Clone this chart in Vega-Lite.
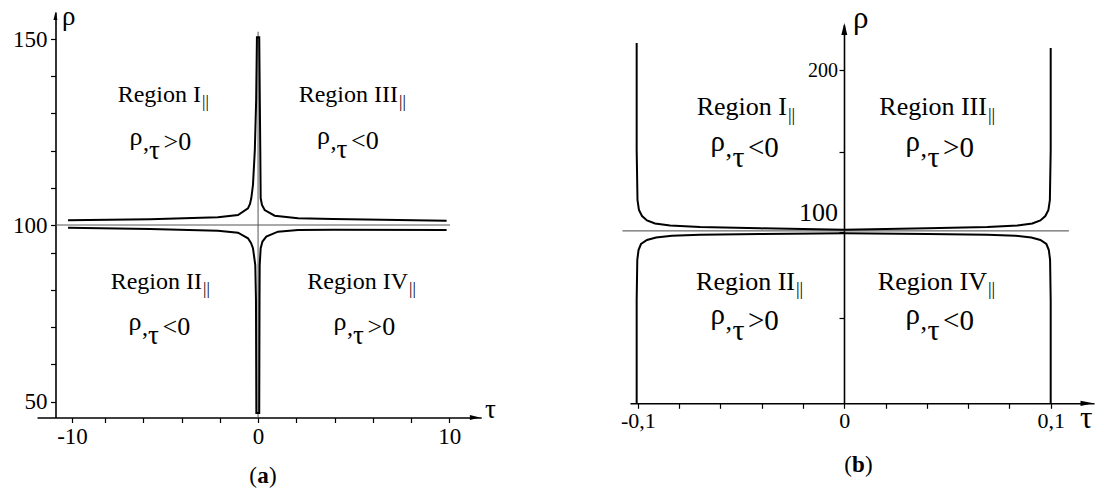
{
  "$schema": "https://vega.github.io/schema/vega-lite/v6.json",
  "width": 1101,
  "height": 491,
  "padding": 0,
  "autosize": {"type": "none"},
  "background": "white",
  "config": {
    "view": {"stroke": null},
    "font": "Liberation Serif",
    "text": {"font": "Liberation Serif", "color": "black"},
    "axis": {"grid": false, "domainColor": "black", "tickColor": "black", "labelColor": "black", "labelFont": "Liberation Serif", "labelFlush": false, "labelOverlap": false, "labelBound": false}
  },
  "datasets": {
    "curvesA": [
      {"b": "up", "i": 1, "tau": -10.24, "rho": 101.26},
      {"b": "up", "i": 2, "tau": -5.65, "rho": 101.53},
      {"b": "up", "i": 3, "tau": -2.1, "rho": 102.07},
      {"b": "up", "i": 4, "tau": -1.05, "rho": 102.69},
      {"b": "up", "i": 5, "tau": -0.528, "rho": 104.49},
      {"b": "up", "i": 6, "tau": -0.424, "rho": 105.65},
      {"b": "up", "i": 7, "tau": -0.356, "rho": 107.18},
      {"b": "up", "i": 8, "tau": -0.267, "rho": 110.75},
      {"b": "up", "i": 9, "tau": -0.17, "rho": 120.16},
      {"b": "up", "i": 10, "tau": -0.1, "rho": 133.6},
      {"b": "up", "i": 11, "tau": -0.06, "rho": 150.5},
      {"b": "up", "i": 12, "tau": 0.06, "rho": 150.5},
      {"b": "up", "i": 13, "tau": 0.09, "rho": 133.6},
      {"b": "up", "i": 14, "tau": 0.115, "rho": 120.16},
      {"b": "up", "i": 15, "tau": 0.136, "rho": 107.18},
      {"b": "up", "i": 16, "tau": 0.204, "rho": 105.38},
      {"b": "up", "i": 17, "tau": 0.345, "rho": 104.03},
      {"b": "up", "i": 18, "tau": 0.868, "rho": 102.5},
      {"b": "up", "i": 19, "tau": 2.09, "rho": 101.8},
      {"b": "up", "i": 20, "tau": 3.92, "rho": 101.61},
      {"b": "up", "i": 21, "tau": 9.86, "rho": 101.16},
      {"b": "lo", "i": 1, "tau": -10.24, "rho": 99.03},
      {"b": "lo", "i": 2, "tau": -5.65, "rho": 98.56},
      {"b": "lo", "i": 3, "tau": -2.1, "rho": 97.94},
      {"b": "lo", "i": 4, "tau": -1.05, "rho": 97.22},
      {"b": "lo", "i": 5, "tau": -0.528, "rho": 95.2},
      {"b": "lo", "i": 6, "tau": -0.371, "rho": 93.5},
      {"b": "lo", "i": 7, "tau": -0.267, "rho": 91.6},
      {"b": "lo", "i": 8, "tau": -0.146, "rho": 86.7},
      {"b": "lo", "i": 9, "tau": -0.11, "rho": 77.3},
      {"b": "lo", "i": 10, "tau": -0.09, "rho": 46.97},
      {"b": "lo", "i": 11, "tau": 0.06, "rho": 46.97},
      {"b": "lo", "i": 12, "tau": 0.075, "rho": 77.3},
      {"b": "lo", "i": 13, "tau": 0.084, "rho": 86.7},
      {"b": "lo", "i": 14, "tau": 0.136, "rho": 91.6},
      {"b": "lo", "i": 15, "tau": 0.23, "rho": 94.04},
      {"b": "lo", "i": 16, "tau": 0.429, "rho": 95.78},
      {"b": "lo", "i": 17, "tau": 1.04, "rho": 97.58},
      {"b": "lo", "i": 18, "tau": 2.09, "rho": 98.2},
      {"b": "lo", "i": 19, "tau": 3.92, "rho": 98.3},
      {"b": "lo", "i": 20, "tau": 9.86, "rho": 98.2}
    ],
    "thinA": [
      {"b": "h", "i": 1, "tau": -11.0, "rho": 100},
      {"b": "h", "i": 2, "tau": 10.04, "rho": 100},
      {"b": "v", "i": 1, "tau": 0, "rho": 151.96},
      {"b": "v", "i": 2, "tau": 0, "rho": 45.76}
    ],
    "regionA": [
      {"tau": -2.986, "rho": 133.06, "main": "Region I", "sub": "||"},
      {"tau": 7.317, "rho": 133.06, "main": "Region III", "sub": "||"},
      {"tau": -2.934, "rho": 80.26, "main": "Region II", "sub": "||"},
      {"tau": 7.84, "rho": 80.26, "main": "Region IV", "sub": "||"}
    ],
    "ineqA": [
      {"tau": -6.046, "rho": 120.16, "sign": ">0"},
      {"tau": 3.76, "rho": 120.5, "sign": "<0"},
      {"tau": -6.098, "rho": 67.9, "sign": "<0"},
      {"tau": 4.623, "rho": 67.9, "sign": ">0"}
    ],
    "titlesA": [
      {"tau": -10.6, "rho": 153.76, "t": "ρ"},
      {"tau": 11.87, "rho": 45.63, "t": "τ"}
    ],
    "arrowsA": [
      {"dir": "up", "tau": -11.0, "rho": 156.2},
      {"dir": "right", "tau": 11.34, "rho": 45.76}
    ],
    "captionA": [
      {"tau": 0.256, "rho": 28.18, "letter": "a"}
    ],
    "curvesB": [
      {"b": "up", "i": 1, "tau": -0.1006, "rho": 216.5},
      {"b": "up", "i": 2, "tau": -0.1006, "rho": 151.0},
      {"b": "up", "i": 3, "tau": -0.1002, "rho": 119.8},
      {"b": "up", "i": 4, "tau": -0.0995, "rho": 113.6},
      {"b": "up", "i": 5, "tau": -0.098, "rho": 109.8},
      {"b": "up", "i": 6, "tau": -0.0956, "rho": 107.0},
      {"b": "up", "i": 7, "tau": -0.0917, "rho": 105.1},
      {"b": "up", "i": 8, "tau": -0.0844, "rho": 103.9},
      {"b": "up", "i": 9, "tau": -0.0699, "rho": 102.9},
      {"b": "up", "i": 10, "tau": -0.0408, "rho": 102.1},
      {"b": "up", "i": 11, "tau": 0, "rho": 101.25},
      {"b": "up", "i": 12, "tau": 0.0403, "rho": 102.1},
      {"b": "up", "i": 13, "tau": 0.0693, "rho": 102.9},
      {"b": "up", "i": 14, "tau": 0.0839, "rho": 103.9},
      {"b": "up", "i": 15, "tau": 0.0911, "rho": 105.1},
      {"b": "up", "i": 16, "tau": 0.095, "rho": 107.0},
      {"b": "up", "i": 17, "tau": 0.0974, "rho": 109.8},
      {"b": "up", "i": 18, "tau": 0.0989, "rho": 113.6},
      {"b": "up", "i": 19, "tau": 0.0996, "rho": 119.8},
      {"b": "up", "i": 20, "tau": 0.1, "rho": 151.0},
      {"b": "up", "i": 21, "tau": 0.1, "rho": 213.5},
      {"b": "lo", "i": 1, "tau": -0.1006, "rho": 0},
      {"b": "lo", "i": 2, "tau": -0.1006, "rho": 60.6},
      {"b": "lo", "i": 3, "tau": -0.1003, "rho": 83.7},
      {"b": "lo", "i": 4, "tau": -0.0997, "rho": 89.4},
      {"b": "lo", "i": 5, "tau": -0.0985, "rho": 92.9},
      {"b": "lo", "i": 6, "tau": -0.0956, "rho": 95.2},
      {"b": "lo", "i": 7, "tau": -0.0912, "rho": 96.65},
      {"b": "lo", "i": 8, "tau": -0.0835, "rho": 97.7},
      {"b": "lo", "i": 9, "tau": -0.0699, "rho": 98.2},
      {"b": "lo", "i": 10, "tau": -0.0408, "rho": 98.67},
      {"b": "lo", "i": 11, "tau": 0, "rho": 99.08},
      {"b": "lo", "i": 12, "tau": 0.0403, "rho": 98.67},
      {"b": "lo", "i": 13, "tau": 0.0693, "rho": 98.2},
      {"b": "lo", "i": 14, "tau": 0.0829, "rho": 97.7},
      {"b": "lo", "i": 15, "tau": 0.0906, "rho": 96.65},
      {"b": "lo", "i": 16, "tau": 0.095, "rho": 95.2},
      {"b": "lo", "i": 17, "tau": 0.0979, "rho": 92.9},
      {"b": "lo", "i": 18, "tau": 0.0991, "rho": 89.4},
      {"b": "lo", "i": 19, "tau": 0.0997, "rho": 83.7},
      {"b": "lo", "i": 20, "tau": 0.1, "rho": 60.6},
      {"b": "lo", "i": 21, "tau": 0.1, "rho": 0}
    ],
    "thinB": [
      {"b": "h", "i": 1, "tau": -0.1075, "rho": 100.5},
      {"b": "h", "i": 2, "tau": 0.1088, "rho": 100.5}
    ],
    "regionB": [
      {"tau": -0.02776, "rho": 172.46, "main": "Region I", "sub": "||"},
      {"tau": 0.0691, "rho": 172.46, "main": "Region III", "sub": "||"},
      {"tau": -0.02389, "rho": 66.34, "main": "Region II", "sub": "||"},
      {"tau": 0.0691, "rho": 66.34, "main": "Region IV", "sub": "||"}
    ],
    "ineqB": [
      {"tau": -0.0578, "rho": 146.7, "sign": "<0"},
      {"tau": 0.0367, "rho": 146.7, "sign": ">0"},
      {"tau": -0.0578, "rho": 43.1, "sign": ">0"},
      {"tau": 0.0367, "rho": 43.1, "sign": "<0"}
    ],
    "titlesB": [
      {"tau": 0.0042, "rho": 225.4, "t": "ρ"},
      {"tau": 0.1142, "rho": -14.53, "t": "τ"}
    ],
    "arrowsB": [
      {"dir": "up", "tau": 0, "rho": 225.1},
      {"dir": "right", "tau": 0.1176, "rho": 0}
    ],
    "captionB": [
      {"tau": 0.00688, "rho": -40.4, "letter": "b"}
    ]
  },
  "layer": [
    {
      "encoding": {
        "x": {
          "field": "tau", "type": "quantitative",
          "scale": {"domain": [-12.115, -8, 10, 11.67], "range": [37, 105.1, 449.3, 481.2], "nice": false, "zero": false},
          "axis": {
            "orient": "bottom", "offset": -73.5, "title": null,
            "values": [-10, -8, -6, -4, -2, 0, 2, 4, 6, 8, 10],
            "labelExpr": "datum.value == -10 ? '-10' : (datum.value == 0 ? '0' : (datum.value == 10 ? '10' : ''))",
            "tickSize": 5, "tickWidth": 1.2, "domainWidth": 1.6,
            "labelFontSize": 23, "labelPadding": 2.5
          }
        },
        "y": {
          "field": "rho", "type": "quantitative",
          "scale": {"domain": [45.76, 50, 90, 100, 150, 157.26], "range": [417.5, 401.7, 252.7, 225, 39, 12], "nice": false, "zero": false},
          "axis": {
            "orient": "left", "offset": -55.5, "title": null,
            "values": [50, 60, 70, 80, 90, 100, 110, 120, 130, 140, 150],
            "labelExpr": "datum.value % 50 == 0 ? '' + datum.value : ''",
            "tickSize": 5, "tickWidth": 1.2, "domainWidth": 1.6,
            "labelFontSize": 23, "labelPadding": 3.5
          }
        }
      },
      "layer": [
        {
          "data": {"name": "thinA"},
          "mark": {"type": "line", "stroke": "#555555", "strokeWidth": 1},
          "encoding": {"detail": {"field": "b"}, "order": {"field": "i", "type": "quantitative"}}
        },
        {
          "data": {"name": "curvesA"},
          "mark": {"type": "line", "stroke": "black", "strokeWidth": 2},
          "encoding": {"detail": {"field": "b"}, "order": {"field": "i", "type": "quantitative"}}
        },
        {
          "data": {"name": "regionA"},
          "mark": {"type": "text", "align": "right", "baseline": "alphabetic", "fontSize": 24},
          "encoding": {"text": {"field": "main"}}
        },
        {
          "data": {"name": "regionA"},
          "mark": {"type": "text", "align": "left", "baseline": "alphabetic", "fontSize": 17, "dx": 1, "dy": 5},
          "encoding": {"text": {"field": "sub"}}
        },
        {
          "data": {"name": "ineqA"},
          "mark": {"type": "text", "align": "right", "baseline": "alphabetic", "fontSize": 26, "dy": -5},
          "encoding": {"text": {"value": "ρ"}}
        },
        {
          "data": {"name": "ineqA"},
          "mark": {"type": "text", "align": "left", "baseline": "alphabetic", "fontSize": 24, "dx": 0.5},
          "encoding": {"text": {"value": ","}}
        },
        {
          "data": {"name": "ineqA"},
          "mark": {"type": "text", "align": "left", "baseline": "alphabetic", "fontSize": 27, "dx": 6.5, "dy": 9},
          "encoding": {"text": {"value": "τ"}}
        },
        {
          "data": {"name": "ineqA"},
          "mark": {"type": "text", "align": "left", "baseline": "alphabetic", "fontSize": 26, "dx": 21},
          "encoding": {"text": {"field": "sign"}}
        },
        {
          "data": {"name": "titlesA"},
          "mark": {"type": "text", "align": "left", "baseline": "alphabetic", "fontSize": 27},
          "encoding": {"text": {"field": "t"}}
        },
        {
          "data": {"name": "arrowsA"},
          "transform": [{"filter": "datum.dir == 'up'"}],
          "mark": {"type": "point", "shape": "M0,-1L0.5,1L-0.5,1Z", "filled": true, "color": "black", "opacity": 1, "size": 64}
        },
        {
          "data": {"name": "arrowsA"},
          "transform": [{"filter": "datum.dir == 'right'"}],
          "mark": {"type": "point", "shape": "M1,0L-1,0.5L-1,-0.5Z", "filled": true, "color": "black", "opacity": 1, "size": 100}
        },
        {
          "data": {"name": "captionA"},
          "mark": {"type": "text", "align": "center", "baseline": "alphabetic", "fontSize": 23, "fontWeight": "bold"},
          "encoding": {"text": {"field": "letter"}}
        },
        {
          "data": {"name": "captionA"},
          "mark": {"type": "text", "align": "right", "baseline": "alphabetic", "fontSize": 23, "dx": -6},
          "encoding": {"text": {"value": "("}}
        },
        {
          "data": {"name": "captionA"},
          "mark": {"type": "text", "align": "left", "baseline": "alphabetic", "fontSize": 23, "dx": 6},
          "encoding": {"text": {"value": ")"}}
        }
      ]
    },
    {
      "encoding": {
        "x": {
          "field": "tau", "type": "quantitative",
          "scale": {"domain": [-0.10383, 0.12098], "range": [630, 1094], "nice": false, "zero": false},
          "axis": {
            "orient": "bottom", "offset": -87.7, "title": null,
            "values": [-0.1, -0.08, -0.06, -0.04, -0.02, 0, 0.02, 0.04, 0.06, 0.08, 0.1],
            "labelExpr": "datum.value < -0.09 ? '-0,1' : (datum.value > 0.09 ? '0,1' : (datum.value == 0 ? '0' : ''))",
            "tickSize": 5, "tickWidth": 1.2, "domainWidth": 1.6,
            "labelFontSize": 22, "labelPadding": 2
          }
        },
        "y": {
          "field": "rho", "type": "quantitative",
          "scale": {"domain": [0, 50, 100, 150, 200, 227.5], "range": [403.3, 318.3, 231.7, 151.7, 70, 25], "nice": false, "zero": false},
          "axis": {
            "orient": "left", "offset": -844, "title": null,
            "values": [50, 100, 150, 200],
            "labelExpr": "datum.value % 100 == 0 ? '' + datum.value : ''",
            "tickSize": 5, "tickWidth": 1.2, "domainWidth": 1.6,
            "labelFontSize": {"condition": {"test": "datum.value == 100", "value": 26}, "value": 20},
            "labelOffset": {"condition": {"test": "datum.value == 100", "value": -19}, "value": 0},
            "labelPadding": 1.5
          }
        }
      },
      "layer": [
        {
          "data": {"name": "thinB"},
          "mark": {"type": "line", "stroke": "#444444", "strokeWidth": 1},
          "encoding": {"detail": {"field": "b"}, "order": {"field": "i", "type": "quantitative"}}
        },
        {
          "data": {"name": "curvesB"},
          "mark": {"type": "line", "stroke": "black", "strokeWidth": 2},
          "encoding": {"detail": {"field": "b"}, "order": {"field": "i", "type": "quantitative"}}
        },
        {
          "data": {"name": "regionB"},
          "mark": {"type": "text", "align": "right", "baseline": "alphabetic", "fontSize": 26},
          "encoding": {"text": {"field": "main"}}
        },
        {
          "data": {"name": "regionB"},
          "mark": {"type": "text", "align": "left", "baseline": "alphabetic", "fontSize": 18, "dx": 1, "dy": 5.5},
          "encoding": {"text": {"field": "sub"}}
        },
        {
          "data": {"name": "ineqB"},
          "mark": {"type": "text", "align": "right", "baseline": "alphabetic", "fontSize": 29, "dy": -6},
          "encoding": {"text": {"value": "ρ"}}
        },
        {
          "data": {"name": "ineqB"},
          "mark": {"type": "text", "align": "left", "baseline": "alphabetic", "fontSize": 26, "dx": 0.5},
          "encoding": {"text": {"value": ","}}
        },
        {
          "data": {"name": "ineqB"},
          "mark": {"type": "text", "align": "left", "baseline": "alphabetic", "fontSize": 30, "dx": 7.5, "dy": 10},
          "encoding": {"text": {"value": "τ"}}
        },
        {
          "data": {"name": "ineqB"},
          "mark": {"type": "text", "align": "left", "baseline": "alphabetic", "fontSize": 29, "dx": 23},
          "encoding": {"text": {"field": "sign"}}
        },
        {
          "data": {"name": "titlesB"},
          "mark": {"type": "text", "align": "left", "baseline": "alphabetic", "fontSize": 31},
          "encoding": {"text": {"field": "t"}}
        },
        {
          "data": {"name": "arrowsB"},
          "transform": [{"filter": "datum.dir == 'up'"}],
          "mark": {"type": "point", "shape": "M0,-1L0.5,1L-0.5,1Z", "filled": true, "color": "black", "opacity": 1, "size": 144}
        },
        {
          "data": {"name": "arrowsB"},
          "transform": [{"filter": "datum.dir == 'right'"}],
          "mark": {"type": "point", "shape": "M1,0L-1,0.4L-1,-0.4Z", "filled": true, "color": "black", "opacity": 1, "size": 169}
        },
        {
          "data": {"name": "captionB"},
          "mark": {"type": "text", "align": "center", "baseline": "alphabetic", "fontSize": 23, "fontWeight": "bold"},
          "encoding": {"text": {"field": "letter"}}
        },
        {
          "data": {"name": "captionB"},
          "mark": {"type": "text", "align": "right", "baseline": "alphabetic", "fontSize": 23, "dx": -6.5},
          "encoding": {"text": {"value": "("}}
        },
        {
          "data": {"name": "captionB"},
          "mark": {"type": "text", "align": "left", "baseline": "alphabetic", "fontSize": 23, "dx": 6.5},
          "encoding": {"text": {"value": ")"}}
        }
      ]
    }
  ],
  "resolve": {
    "scale": {"x": "independent", "y": "independent"},
    "axis": {"x": "independent", "y": "independent"}
  }
}
